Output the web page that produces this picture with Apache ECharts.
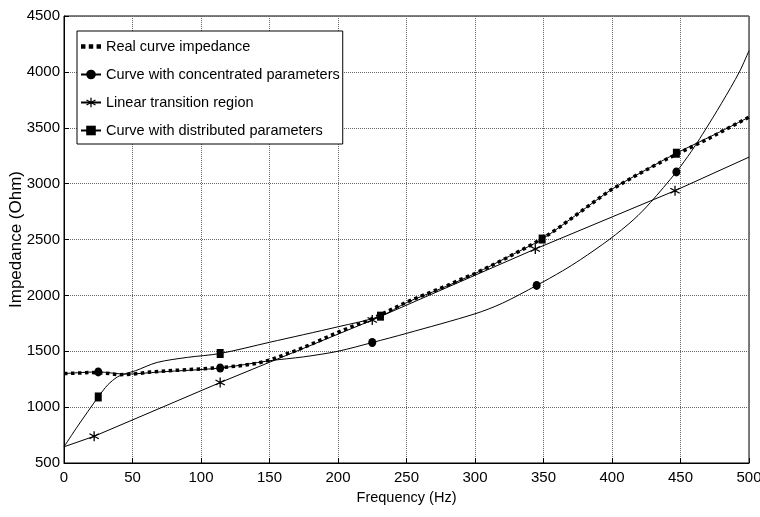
<!DOCTYPE html>
<html>
<head>
<meta charset="utf-8">
<script src="https://cdn.jsdelivr.net/npm/echarts@6/dist/echarts.min.js"></script>
<style>
  html, body { margin: 0; padding: 0; background: #fff; }
  #chart { width: 760px; height: 517px; }
</style>
</head>
<body>
<div id="chart"></div>
<script>
// 横轴刻度
const freqTicks = [0, 50, 100, 150, 200, 250, 300, 350, 400, 450, 500];
const impTicks = [500, 1000, 1500, 2000, 2500, 3000, 3500, 4000, 4500];

// Real curve impedance (measured)
const realFreq = [0, 10, 20, 30, 40, 50, 60, 70, 80, 90, 100, 110, 120, 130, 140, 150, 160, 170, 180, 190,
  200, 210, 220, 230, 240, 250, 260, 270, 280, 290, 300, 310, 320, 330, 340, 350, 360, 370, 380, 390,
  400, 410, 420, 430, 440, 450, 460, 470, 480, 490, 500];
const realImp = [1300, 1305, 1310, 1305, 1290, 1295, 1310, 1320, 1328, 1335, 1342, 1350, 1360, 1372, 1390, 1420, 1465, 1510, 1560, 1615,
  1670, 1720, 1765, 1820, 1880, 1940, 1990, 2040, 2090, 2145, 2195, 2255, 2315, 2380, 2445, 2515, 2595, 2685, 2775, 2865,
  2950, 3020, 3090, 3155, 3220, 3280, 3340, 3400, 3465, 3530, 3595];

// Curve with concentrated parameters
const concFreq = [0, 25, 45, 70, 114, 150, 175, 200, 225, 250, 300, 320, 345, 364, 377, 398, 416, 428, 447, 458, 466, 480, 493, 500];
const concImp = [1300, 1315, 1295, 1315, 1350, 1415, 1450, 1500, 1578, 1660, 1835, 1930, 2089, 2220, 2320, 2500, 2680, 2830, 3105, 3290, 3440, 3720, 4000, 4190];
const concMarks = [25, 114, 225, 345, 447];

// Linear transition region
const linFreq = [0, 22, 114, 225, 344, 446, 500];
const linImp = [645, 739, 1220, 1779, 2415, 2937, 3237];
const linMarks = [22, 114, 225, 344, 446];

// Curve with distributed parameters
const distFreq = [0, 10, 25, 32, 39, 45, 52, 68, 90, 114, 150, 200, 231, 250, 275, 300, 325, 349, 375, 400, 425, 447, 475, 500];
const distImp = [645, 830, 1091, 1200, 1270, 1300, 1325, 1400, 1445, 1480, 1580, 1719, 1814, 1935, 2060, 2195, 2350, 2504, 2730, 2950, 3125, 3272, 3440, 3595];
const distMarks = [25, 114, 231, 349, 447];

const font = "'Liberation Sans', Arial, sans-serif";

// 星号标记
const starPath = 'path://M-1.2,-10L1.2,-10L1.2,10L-1.2,10Z' +
  'M8.06,-6.04L9.26,-3.96L-8.06,6.04L-9.26,3.96Z' +
  'M-9.26,-3.96L-8.06,-6.04L9.26,3.96L8.06,6.04Z';
// 图例中的点线图标
const dotsIcon = 'path://M0,0h4v4h-4zM7,0h4v4h-4zM14,0h4v4h-4z';

// 只在标记频率处画符号
function pairs(xs, ys, marks) {
  return xs.map((x, i) => marks.includes(x) ? [x, ys[i]] : { value: [x, ys[i]], symbol: 'none' });
}

const chart = echarts.init(document.getElementById('chart'), null, { renderer: 'canvas' });

const option = {
  animation: false,
  backgroundColor: '#fff',
  grid: {
    left: 64, right: 11, top: 16, bottom: 54,
    containLabel: false,
    outerBoundsMode: 'none',
    show: true, borderColor: '#000', borderWidth: 1
  },
  legend: {
    left: 77,
    top: 31,
    orient: 'vertical',
    backgroundColor: '#fff',
    borderColor: '#000',
    borderWidth: 1,
    padding: [8, 3, 6, 3],
    itemGap: 13,
    itemWidth: 20,
    itemHeight: 12,
    textStyle: { fontFamily: font, fontSize: 14.5, color: '#000' },
    data: [
      { name: 'Real curve impedance', icon: dotsIcon },
      'Curve with concentrated parameters',
      'Linear transition region',
      'Curve with distributed parameters'
    ]
  },
  xAxis: {
    type: 'value',
    min: freqTicks[0],
    max: freqTicks[freqTicks.length - 1],
    interval: 50,
    name: 'Frequency (Hz)',
    nameLocation: 'middle',
    nameGap: 27,
    nameMoveOverlap: false,
    nameTextStyle: { fontFamily: font, fontSize: 14.5, color: '#000' },
    axisLine: { lineStyle: { color: '#000', width: 1 } },
    axisTick: { inside: true, length: 5, lineStyle: { color: '#000' } },
    axisLabel: { fontFamily: font, fontSize: 15, color: '#000', margin: 7, formatter: v => String(v) },
    splitLine: { show: true, lineStyle: { type: 'dotted', color: '#666', width: 1 } }
  },
  yAxis: {
    type: 'value',
    min: impTicks[0],
    max: impTicks[impTicks.length - 1],
    interval: 500,
    name: 'Impedance (Ohm)',
    nameLocation: 'middle',
    nameGap: 39,
    nameMoveOverlap: false,
    nameTextStyle: { fontFamily: font, fontSize: 17, color: '#000' },
    axisLine: { show: true, lineStyle: { color: '#000', width: 1 } },
    axisTick: { show: true, inside: true, length: 5, lineStyle: { color: '#000' } },
    axisLabel: { fontFamily: font, fontSize: 15, color: '#000', margin: 4, formatter: v => String(v) },
    splitLine: { show: true, lineStyle: { type: 'dotted', color: '#666', width: 1 } }
  },
  series: [
    {
      name: 'Real curve impedance',
      type: 'line',
      symbol: 'none',
      data: realFreq.map((x, i) => [x, realImp[i]]),
      lineStyle: { color: '#000', width: 3.5, type: 'dotted' },
      itemStyle: { color: '#000' },
      z: 2
    },
    {
      name: 'Curve with concentrated parameters',
      type: 'line',
      symbol: 'circle',
      symbolSize: [8, 9],
      showAllSymbol: true,
      smooth: 0.3,
      data: pairs(concFreq, concImp, concMarks),
      lineStyle: { color: '#000', width: 1 },
      itemStyle: { color: '#000' },
      z: 3
    },
    {
      name: 'Linear transition region',
      type: 'line',
      symbol: starPath,
      symbolSize: [10, 10],
      showAllSymbol: true,
      data: pairs(linFreq, linImp, linMarks),
      lineStyle: { color: '#000', width: 1 },
      itemStyle: { color: '#000' },
      z: 3
    },
    {
      name: 'Curve with distributed parameters',
      type: 'line',
      symbol: 'rect',
      symbolSize: [7, 9],
      showAllSymbol: true,
      smooth: 0.3,
      data: pairs(distFreq, distImp, distMarks),
      lineStyle: { color: '#000', width: 1 },
      itemStyle: { color: '#000' },
      z: 3
    }
  ]
};

chart.setOption(option);
</script>
</body>
</html>
